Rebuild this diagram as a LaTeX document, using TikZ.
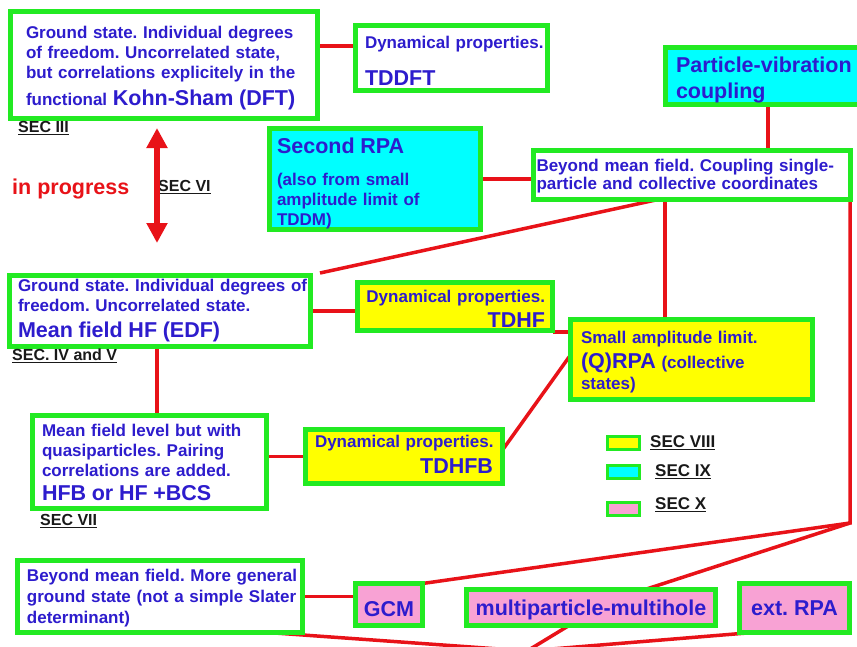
\documentclass[tikz,border=0pt]{standalone}
\usepackage{fontspec}
\setmainfont{Liberation Sans}
\usetikzlibrary{arrows.meta,backgrounds,calc}
\pgfdeclarelayer{bgzero}
\pgfsetlayers{bgzero,background,main}
\definecolor{gbord}{RGB}{34,234,34}
\definecolor{tblue}{RGB}{45,28,205}
\definecolor{cred}{RGB}{232,18,24}
\definecolor{fyel}{RGB}{255,255,0}
\definecolor{fcya}{RGB}{0,255,255}
\definecolor{fpnk}{RGB}{248,162,212}
\definecolor{sblk}{RGB}{25,25,25}
\newcommand\smfnt{\fontsize{17}{20}\selectfont\bfseries}
\newcommand\bgfnt{\fontsize{21.5}{25}\selectfont\bfseries}
\newcommand\secfnt{\fontsize{16}{19}\selectfont\bfseries}
\newcommand\secul[1]{\setbox0\hbox{#1}\rlap{\rule[-3pt]{\wd0}{1.3pt}}\box0}
\newcommand\tp[1]{\rule{0pt}{#1pt}}
\newcommand\bt[1]{\rule[-#1pt]{0pt}{0pt}}
\begin{document}
\frenchspacing
\begin{tikzpicture}[x=1pt,y=-1pt,
  box/.style={draw=gbord, line width=5pt, anchor=north west, outer sep=0pt, inner ysep=0pt, text=tblue, font=\smfnt, align=left},
  cbox/.style={box, align=center, font=\bgfnt, inner sep=0pt, fill=fpnk},
  conn/.style={draw=cred, line width=3.5pt},
  seclab/.style={anchor=west, inner sep=0pt, text=sblk, font=\secfnt},
  legbox/.style={draw=gbord, line width=3pt, anchor=north west, outer sep=0pt, minimum width=32pt, minimum height=13pt, inner sep=0pt}]
\useasboundingbox (0,0) rectangle (857,646);
\begin{pgfonlayer}{bgzero}
\fill[white] (0,0) rectangle (857,646);
\end{pgfonlayer}

% boxes
\node[box, fill=white, minimum width=307pt, minimum height=107pt, inner xsep=15.5pt, text width=276pt] (ks) at (10.5,11.5)
  {\tp{18.5}\mbox{Ground state. Individual degrees}\\ \mbox{of freedom. Uncorrelated state,}\\ \mbox{but correlations explicitely in the}\\[7pt] \mbox{functional {\bgfnt Kohn-Sham (DFT)}}};
\node[box, fill=white, minimum width=192pt, minimum height=65pt, inner xsep=9.5pt, text width=173pt] (tddft) at (355.5,25.5)
  {\tp{18.5}\mbox{Dynamical properties.}\\[17pt]{\bgfnt TDDFT}};
\node[box, fill=fcya, font=\bgfnt, minimum width=230pt, minimum height=57pt, inner xsep=10.5pt, text width=209pt] (pvc) at (665.5,47.5)
  {\tp{23.7}Particle-vibration\\[1pt]coupling};
\node[box, fill=white, minimum width=317pt, minimum height=49pt, inner xsep=3pt, text width=311pt] (beyond) at (533.5,150.5)
  {\tp{14.4}\mbox{Beyond mean field. Coupling single-}\\[-2pt]\mbox{particle and collective coordinates}};
\node[box, fill=fcya, minimum width=211pt, minimum height=101pt, inner xsep=7.5pt, text width=196pt] (srpa) at (269.5,128.5)
  {\tp{23.7}{\bgfnt Second RPA}\\[12pt](also from small\\amplitude limit of\\TDDM)};
\node[box, fill=white, minimum width=301pt, minimum height=71pt, inner xsep=8.5pt, text width=284pt] (hf) at (9.5,275.5)
  {\mbox{Ground state. Individual degrees of}\\ \mbox{freedom. Uncorrelated state.}\\[6pt]{\bgfnt Mean field HF (EDF)}};
\node[box, fill=fyel, align=right, minimum width=195pt, minimum height=48pt, inner xsep=7.5pt, text width=180pt] (tdhf) at (357.5,282.5)
  {\tp{16.4}\mbox{Dynamical properties.}\\[5pt]{\bgfnt TDHF}};
\node[box, fill=fyel, minimum width=242pt, minimum height=80pt, inner xsep=10.5pt, text width=221pt] (qrpa) at (570.5,319.5)
  {\tp{18.5}Small amplitude limit.\\[5pt]{\bgfnt (Q)RPA} (collective\\[1pt]states)};
\node[box, fill=white, minimum width=234pt, minimum height=93pt, inner xsep=9.5pt, text width=215pt] (hfb) at (32.5,415.5)
  {Mean field level but with\\quasiparticles. Pairing\\correlations are added.\\[4pt]{\bgfnt HFB or HF +BCS}};
\node[box, fill=fyel, align=right, minimum width=197pt, minimum height=54pt, inner xsep=9.5pt, text width=178pt] (tdhfb) at (305.5,429.5)
  {\mbox{Dynamical properties.}\\[6pt]{\bgfnt TDHFB}\bt{4}};
\node[box, fill=white, minimum width=285pt, minimum height=72pt, inner xsep=9.5pt, text width=266pt] (bmf) at (17.5,560.5)
  {\tp{16.4}\mbox{Beyond mean field. More general}\\[1pt]\mbox{ground state (not a simple Slater}\\[1pt]determinant)};
\node[cbox, minimum width=67pt, minimum height=42pt] (gcm) at (355.5,583.5) {\tp{23.7}GCM};
\node[cbox, minimum width=249pt, minimum height=36pt] (mph) at (466.5,589.5) {\tp{19.7}multiparticle-multihole};
\node[cbox, minimum width=110pt, minimum height=49pt] (extrpa) at (739.5,583.5) {ext. RPA};

% section labels
\node[seclab] (s3) at (18,128) {\secul{SEC III}};
\node[seclab] (s6) at (158,187) {\secul{SEC VI}};
\node[seclab] (s45) at (12,356) {\secul{SEC. IV and V}};
\node[seclab] (s7) at (40,521) {\secul{SEC VII}};
\node[anchor=west, inner sep=0pt, text=cred, font=\bgfnt] (prog) at (12,189) {in progress};

% legend
\node[legbox, fill=fyel] (l8) at (607.5,436.5) {};
\node[legbox, fill=fcya] (l9) at (607.5,465.5) {};
\node[legbox, fill=fpnk] (l10) at (607.5,502.5) {};
\node[seclab, font=\smfnt] (t8) at (650,443) {\secul{SEC VIII}};
\node[seclab, font=\smfnt] (t9) at (655,472) {\secul{SEC IX}};
\node[seclab, font=\smfnt] (t10) at (655,505) {\secul{SEC X}};

% double arrow
\coordinate (arrT) at (157,128);
\coordinate (arrB) at (157,243);
\draw[cred, line width=6pt, {Triangle[length=20pt,width=20pt]}-{Triangle[length=20pt,width=20pt]}] (arrT) -- (arrB);

% connectors
\coordinate (c1) at ([yshift=19pt]ks.east);
\coordinate (c2) at ([xshift=102.5pt]pvc.south west);
\coordinate (c3) at ([xshift=124.5pt]beyond.south west);
\coordinate (c4) at ([xshift=9.5pt,yshift=2.5pt]hf.north east);
\coordinate (c5) at ([yshift=-1.5pt]tdhf.south east);
\coordinate (c6) at ([xshift=131.5pt]beyond.south west);
\coordinate (c7) at ([xshift=-3pt]hf.south);
\coordinate (c8) at ([yshift=6.5pt]tdhfb.east);
\coordinate (c9) at ([yshift=4.5pt]qrpa.west);
\coordinate (jr) at (850,523);
\coordinate (c10) at ([xshift=178.5pt]mph.north west);
\coordinate (c11) at ([xshift=-34.5pt]bmf.south east);
\coordinate (c12) at ([xshift=102.5pt]mph.south west);
\coordinate (c13) at ([xshift=13.5pt]extrpa.south west);
\coordinate (jb) at (527,651);
\begin{pgfonlayer}{background}
\draw[conn] (c1) -- (c1 -| tddft.west);
\draw[conn] (c2) -- (c2 |- beyond.north);
\draw[conn] (srpa.east) -- (srpa.east -| beyond.west);
\draw[conn] (c3) -- (c4);
\draw[conn] (hf.east) -- (hf.east -| tdhf.west);
\draw[conn] (c5) -- (c5 -| qrpa.west);
\draw[conn] (c6) -- (c6 |- qrpa.north);
\draw[conn] (c7) -- (c7 |- hfb.north);
\draw[conn] (tdhfb.west) -- (tdhfb.west -| hfb.east);
\draw[conn] (c8) -- (c9);
\draw[conn] (jr |- beyond.south) -- (jr) -- (gcm.north east);
\draw[conn] (jr) -- (c10);
\draw[conn] (bmf.east) -- (bmf.east -| gcm.west);
\draw[conn] (c11) -- (jb);
\draw[conn] (c12) -- (jb);
\draw[conn] (c13) -- (jb);
\end{pgfonlayer}
\end{tikzpicture}
\end{document}
